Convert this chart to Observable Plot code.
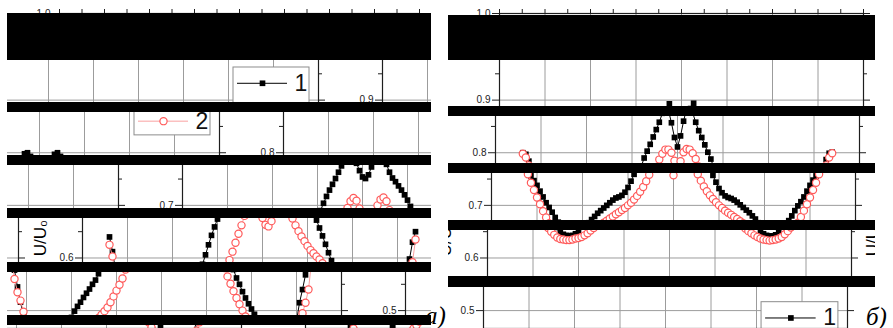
<!DOCTYPE html>
<html><head><meta charset="utf-8">
<script src="https://cdn.jsdelivr.net/npm/d3@7"></script>
<script src="https://cdn.jsdelivr.net/npm/@observablehq/plot@0.6"></script>
<style>
html,body{margin:0;padding:0;background:#fff;}
#root{position:relative;width:893px;height:328px;overflow:hidden;background:#fff;}
.tag{position:absolute;font-family:"Liberation Serif","DejaVu Serif",serif;font-style:italic;font-size:25px;line-height:1;color:#000;z-index:5;}
</style></head><body><div id="root"></div>
<script>
// Angle (degrees) of each measurement, shared by both panels
const angles = [27,30,33,36,39,42,45,48,51,54,57,60,63,66,69,72,75,78,81,84,87,90,93,96,99,102,105,108,111,114,117,120,123,126,129,132,135,138,141,144,147,150,153,156,159,162,165,168,171,174,177,180,183,186,189,192,195,198,201,204,207,210,213,216,219,222,225,228,231,234,237,240,243,246,249,252,255,258,261,264,267,270,273,276,279,282,285,288,291,294,297,300,303,306,309,312,315,318,321,324,327,330,333];

// Panel a) U/U0, series 1 (black squares) and 2 (red circles)
const aCurve1 = [0.640,0.612,0.577,0.545,0.516,0.490,0.469,0.455,0.446,0.440,
0.437,0.434,0.433,0.432,0.432,0.433,0.436,0.441,0.449,0.459,
0.472,0.487,0.499,0.508,0.516,0.525,0.533,0.541,0.550,0.558,
0.570,0.588,0.606,0.625,0.643,0.659,0.674,0.690,0.704,0.717,
0.729,0.740,0.751,0.763,0.775,0.788,0.798,0.800,0.793,0.780,
0.766,0.754,0.751,0.758,0.773,0.787,0.797,0.800,0.793,0.778,
0.763,0.752,0.745,0.737,0.729,0.720,0.710,0.698,0.686,0.672,
0.657,0.642,0.626,0.610,0.595,0.578,0.562,0.550,0.536,0.524,
0.513,0.503,0.493,0.481,0.470,0.460,0.451,0.444,0.439,0.435,
0.433,0.432,0.433,0.436,0.443,0.457,0.480,0.515,0.540,0.568,
0.598,0.630,0.650];
const aCurve2 = [0.625,0.603,0.560,0.535,0.519,0.498,0.480,0.466,0.455,0.447,
0.441,0.437,0.434,0.432,0.431,0.430,0.430,0.431,0.433,0.435,
0.437,0.440,0.443,0.446,0.450,0.455,0.460,0.466,0.472,0.479,
0.486,0.492,0.499,0.506,0.516,0.527,0.538,0.549,0.561,0.578,
0.596,0.612,0.629,0.646,0.662,0.680,0.695,0.708,0.714,0.709,
0.694,0.676,0.663,0.660,0.670,0.686,0.700,0.711,0.715,0.708,
0.691,0.675,0.662,0.651,0.641,0.632,0.623,0.615,0.609,0.603,
0.597,0.590,0.581,0.565,0.551,0.537,0.524,0.512,0.500,0.489,
0.478,0.468,0.459,0.451,0.445,0.440,0.436,0.433,0.431,0.430,
0.430,0.431,0.433,0.436,0.441,0.450,0.462,0.478,0.495,0.515,
0.540,0.592,0.635];

// Panel б)
const bCurve1 = [0.800,0.797,0.784,0.768,0.756,0.747,0.738,0.727,0.716,0.705,
0.696,0.687,0.677,0.668,0.658,0.649,0.645,0.643,0.642,0.643,
0.646,0.651,0.659,0.667,0.673,0.679,0.685,0.690,0.695,0.700,
0.705,0.710,0.714,0.716,0.719,0.725,0.734,0.746,0.759,0.773,
0.790,0.803,0.816,0.830,0.844,0.858,0.875,0.893,0.881,0.857,
0.829,0.811,0.832,0.860,0.884,0.894,0.876,0.858,0.842,0.829,
0.815,0.801,0.788,0.771,0.757,0.744,0.732,0.724,0.718,0.715,
0.713,0.710,0.706,0.701,0.696,0.691,0.686,0.680,0.674,0.667,
0.659,0.651,0.646,0.643,0.642,0.642,0.644,0.651,0.662,0.671,
0.680,0.690,0.699,0.707,0.716,0.727,0.738,0.748,0.756,0.771,
0.787,0.799,0.801];
const bCurve2 = [0.798,0.791,0.776,0.759,0.743,0.729,0.715,0.702,0.689,0.677,
0.666,0.657,0.650,0.644,0.639,0.636,0.635,0.634,0.634,0.635,
0.637,0.638,0.640,0.643,0.647,0.652,0.657,0.662,0.667,0.671,
0.675,0.679,0.683,0.687,0.691,0.695,0.700,0.705,0.711,0.718,
0.726,0.735,0.746,0.758,0.773,0.787,0.798,0.806,0.806,0.800,
0.785,0.757,0.784,0.801,0.807,0.806,0.799,0.788,0.774,0.759,
0.747,0.736,0.727,0.719,0.712,0.706,0.700,0.695,0.690,0.686,
0.682,0.678,0.674,0.670,0.666,0.661,0.656,0.651,0.647,0.643,
0.640,0.637,0.635,0.634,0.633,0.634,0.635,0.637,0.640,0.645,
0.651,0.658,0.667,0.678,0.690,0.702,0.715,0.729,0.743,0.759,
0.776,0.791,0.799];

const seriesNames = ["1", "2"];
const yTickValues = [0.5, 0.6, 0.7, 0.8, 0.9, 1.0];
const yMinorValues = [0.55, 0.65, 0.75, 0.85, 0.95];
const yGridValues = [0.5, 0.6, 0.7, 0.8, 0.9];
const xGridValues = [0, 45, 90, 135, 180, 225, 270, 315, 360];
const xTopTicks = [0, 22.5, 45, 67.5, 90, 112.5, 135, 157.5, 180, 202.5, 225, 247.5, 270, 292.5, 315, 337.5, 360];
const yLabel = "U/U\u2080";
const panelTags = ["\u0430)", "\u0431)"];

const root = document.getElementById("root");
const H = 328, MT = 47, MR = 12;
const Y0 = 0.466, Y1 = 1.0;

function panelChart(c1, c2, W, mL, legTop) {
  const s1 = angles.map((a, i) => ({a, v: c1[i]}));
  const s2 = angles.map((a, i) => ({a, v: c2[i]}));
  const leg = seriesNames.map((name, i) => ({name, y: legTop - 0.030 - 0.072 * i}));
  const kx = 360 / (W - mL - MR);        // degrees per pixel
  const ky = (Y1 - Y0) / (H - MT);       // U/U0 per pixel
  const tick = {stroke: "#1e1e1e", strokeWidth: 1};
  return Plot.plot({
    width: W, height: H,
    marginLeft: mL, marginRight: MR, marginTop: MT, marginBottom: 0,
    x: {domain: [0, 360], axis: null, label: null},
    y: {domain: [Y0, Y1], label: null},
    style: {background: "white", fontFamily: "Liberation Sans, Arial, sans-serif", fontSize: "10px", color: "#222"},
    marks: [
      Plot.gridX(xGridValues, {stroke: "#9c9c9c", strokeOpacity: 1}),
      Plot.gridY(yGridValues, {stroke: "#9c9c9c", strokeOpacity: 1}),
      Plot.line(s1, {x: "a", y: "v", stroke: "#000", strokeWidth: 1}),
      Plot.dot(s1, {x: "a", y: "v", symbol: "square", r: 3.2, fill: "#000"}),
      Plot.line(s2, {x: "a", y: "v", stroke: "#f9a0a0", strokeWidth: 1}),
      Plot.dot(s2, {x: "a", y: "v", r: 3.6, stroke: "#ff5a5a", strokeWidth: 1.2, fill: "white"}),
      Plot.rect([legTop], {x1: 275, x2: 351, y1: legTop - 0.129, y2: legTop, fill: "white", stroke: "#8c8c8c"}),
      Plot.ruleY([leg[0]], {y: "y", x1: 279, x2: 329, stroke: "#000"}),
      Plot.ruleY([leg[1]], {y: "y", x1: 279, x2: 329, stroke: "#f9a0a0"}),
      Plot.dot([leg[0]], {x: 304, y: "y", symbol: "square", r: 3.2, fill: "#000"}),
      Plot.dot([leg[1]], {x: 304, y: "y", r: 3.6, stroke: "#ff5a5a", strokeWidth: 1.2, fill: "white"}),
      Plot.text(leg, {x: 336, y: "y", text: "name", textAnchor: "start", fontSize: 23, fill: "#111"}),
      Plot.axisY(yTickValues, {anchor: "left", tickSize: 7, tickPadding: 2, tickFormat: d3.format(".1f"), label: null}),
      Plot.ruleY(yMinorValues, {x1: -4 * kx, x2: 0, ...tick}),
      Plot.ruleY(yTickValues, {x1: 360, x2: 360 + 7 * kx, ...tick}),
      Plot.ruleY(yMinorValues, {x1: 360, x2: 360 + 4 * kx, ...tick}),
      Plot.ruleX(xTopTicks, {y1: Y1, y2: Y1 + 4 * ky, ...tick}),
      Plot.text([yLabel], {x: 0, y: 0.638, dx: -42, rotate: -90, fontSize: 17, fill: "#000"}),
      Plot.frame({stroke: "#1e1e1e", strokeWidth: 1.2})
    ]
  });
}

// Place horizontally displaced (wrapped) bands of a panel image, as in the scanned figure
function mount(svg, left, W, strips) {
  const region = document.createElement("div");
  region.style.cssText = `position:absolute;left:${left}px;top:0;width:${W}px;height:${H}px;background:#000;`;
  root.appendChild(region);
  for (const [y0, y1, s, dy] of strips) {
    const st = document.createElement("div");
    st.style.cssText = `position:absolute;left:0;top:${y0}px;width:${W}px;height:${y1 - y0}px;overflow:hidden;background:#fff;`;
    region.appendChild(st);
    const o = ((s % W) + W) % W;
    for (const off of [o, o - W]) {
      const c = svg.cloneNode(true);
      c.style.position = "absolute";
      c.style.left = off + "px";
      c.style.top = (dy - y0) + "px";
      c.style.maxWidth = "none";
      st.appendChild(c);
    }
    // drop texts that fall completely outside this band (they are never seen)
    const sr = st.getBoundingClientRect();
    st.querySelectorAll("text").forEach(t => {
      const r = t.getBoundingClientRect();
      if (r.right <= sr.left || r.left >= sr.right || r.bottom <= sr.top || r.top >= sr.bottom) t.remove();
    });
  }
}

const chartA = panelChart(aCurve1, aCurve2, 424, 52, 0.962);
const chartB = panelChart(bCurve1, bCurve2, 427, 51, 0.516);

mount(chartA, 7, 424, [[0, 13, 0, -34], [60, 102, -101, 0], [112, 155, -200, 0], [165, 208, -301, 0], [218, 262, -401, 0], [272, 315, -502, 0], [325, 328, -602, 0]]);
mount(chartB, 448, 427, [[0, 15, 0, -34], [60, 106, 0, 0], [116, 163, -4, 0], [173, 220, -8, 0], [230, 276, -12, 0], [287, 328, -16, 0]]);

const tagPos = [[425, 303], [866, 304]];
panelTags.forEach((t, i) => {
  const d = document.createElement("div");
  d.className = "tag";
  d.textContent = t;
  d.style.left = tagPos[i][0] + "px";
  d.style.top = tagPos[i][1] + "px";
  root.appendChild(d);
});
</script>
</body></html>
